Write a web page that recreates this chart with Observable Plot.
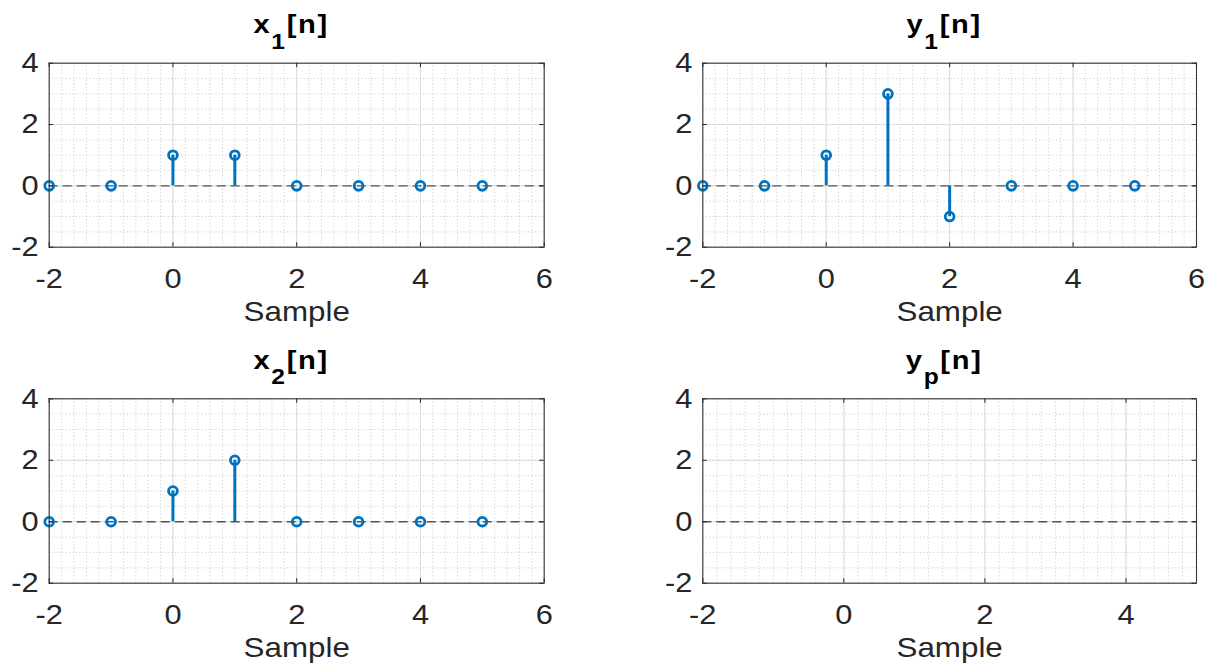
<!DOCTYPE html>
<html>
<head>
<meta charset="utf-8">
<script src="https://cdn.jsdelivr.net/npm/d3@7"></script>
<script src="https://cdn.jsdelivr.net/npm/@observablehq/plot@0.6"></script>
<style>
html, body { margin: 0; padding: 0; background: #fff; }
#chart { position: relative; width: 1205px; height: 669px; overflow: hidden; background: #fff; }
#chart svg { position: absolute; overflow: visible; }
</style>
</head>
<body>
<div id="chart"></div>
<script>
// ---- data ----
const samples = [-2, -1, 0, 1, 2, 3, 4, 5];
const x1Values = [0, 0, 1, 1, 0, 0, 0, 0];
const y1Values = [0, 0, 1, 3, -1, 0, 0, 0];
const x2Values = [0, 0, 1, 2, 0, 0, 0, 0];
const ypSamples = [];
const ypValues = [];

const xTicksWide = [-2, 0, 2, 4, 6];
const xTickLabelsWide = ["-2", "0", "2", "4", "6"];
const xTicksNarrow = [-2, 0, 2, 4];
const xTickLabelsNarrow = ["-2", "0", "2", "4"];
const yTicks = [-2, 0, 2, 4];
const yTickLabels = ["-2", "0", "2", "4"];
const xLabel = "Sample";

// ---- styling ----
const BLUE = "#0072BD";
const AXIS = "#262626";
const FONT = "'Liberation Sans', Arial, Helvetica, sans-serif";
const STRETCH = 1.12;

function makePanel(cfg) {
  const rows = cfg.n.map((n, i) => ({n, v: cfg.v[i]}));
  const plotW = cfg.width - cfg.ml - cfg.mr;
  const plotH = cfg.height - cfg.mt - cfg.mb;
  const minorX = d3.range(cfg.xDomain[0] * 5, cfg.xDomain[1] * 5 + 1).map(d => d / 5);
  const minorY = d3.range(-4, 9).map(d => d / 2);
  const tickLen = 4.5;

  const titleMark = (index, scales, values, dims) => {
    const cx = dims.marginLeft + (dims.width - dims.marginLeft - dims.marginRight) / 2 - 5;
    const t = d3.create("svg:text")
      .attr("transform", `translate(${cx},${dims.marginTop - 29.4})`)
      .attr("text-anchor", "middle")
      .attr("font-family", FONT)
      .attr("font-weight", "bold")
      .attr("font-size", 26)
      .attr("letter-spacing", 1.5)
      .attr("fill", "#000");
    t.append("tspan").text(cfg.base);
    t.append("tspan").attr("font-size", 22).attr("dy", 15.5).text(cfg.sub);
    t.append("tspan").attr("dy", -15.5).text("[n]");
    return t.node();
  };

  const svg = Plot.plot({
    width: cfg.width,
    height: cfg.height,
    marginLeft: cfg.ml,
    marginRight: cfg.mr,
    marginTop: cfg.mt,
    marginBottom: cfg.mb,
    style: {fontSize: "27.5px", fontFamily: FONT, color: AXIS, background: "transparent"},
    x: {domain: cfg.xDomain},
    y: {domain: [-2, 4]},
    marks: [
      Plot.gridX({ticks: minorX, stroke: "#c4c4c4", strokeOpacity: 1, strokeWidth: 0.8, strokeDasharray: "1.2,2.2"}),
      Plot.gridY({ticks: minorY, stroke: "#c4c4c4", strokeOpacity: 1, strokeWidth: 0.8, strokeDasharray: "1.2,2.2"}),
      Plot.gridX({ticks: cfg.xTicks, stroke: "#dcdcdc", strokeOpacity: 1, strokeWidth: 1}),
      Plot.gridY({ticks: yTicks, stroke: "#dcdcdc", strokeOpacity: 1, strokeWidth: 1}),
      Plot.ruleY([0], {stroke: "#555555", strokeWidth: 1.4, strokeDasharray: "9,5"}),
      Plot.ruleX(rows, {x: "n", y1: 0, y2: "v", stroke: BLUE, strokeWidth: 3}),
      Plot.dot(rows, {x: "n", y: "v", r: 4.4, stroke: BLUE, strokeWidth: 2.8, fill: "none"}),
      Plot.frame({stroke: "#3a3a3a", strokeWidth: 1.1}),
      Plot.tickX(cfg.xTicks, {x: d => d, stroke: AXIS, insetBottom: plotH - tickLen}),
      Plot.tickX(cfg.xTicks, {x: d => d, stroke: AXIS, insetTop: plotH - tickLen}),
      Plot.tickY(yTicks, {y: d => d, stroke: AXIS, insetRight: plotW - tickLen}),
      Plot.tickY(yTicks, {y: d => d, stroke: AXIS, insetLeft: plotW - tickLen}),
      Plot.axisX({ticks: cfg.xTicks, tickFormat: (d, i) => cfg.xTickLabels[i], tickSize: 0, tickPadding: 21.5, label: null, fill: AXIS}),
      Plot.axisY({ticks: yTicks, tickFormat: (d, i) => yTickLabels[i], tickSize: 0, tickPadding: 10.5, label: null, fill: AXIS}),
      Plot.text([xLabel], {text: d => d, frameAnchor: "bottom", dy: 74, lineAnchor: "bottom", fontSize: 28, fill: AXIS}),
      titleMark
    ]
  });
  // widen glyphs horizontally, as in the reference rendering
  d3.select(svg).selectAll("text").each(function () {
    const t = this.getAttribute("transform") || "";
    this.setAttribute("transform", (t + ` scale(${STRETCH},1)`).trim());
  });
  svg.style.left = cfg.left + "px";
  svg.style.top = cfg.top + "px";
  document.getElementById("chart").appendChild(svg);
}

makePanel({base: "x", sub: "1", n: samples, v: x1Values, xDomain: [-2, 6], xTicks: xTicksWide, xTickLabels: xTickLabelsWide,
  left: 0, top: 0, width: 600, height: 334, ml: 48.7, mr: 56.3, mt: 62.7, mb: 87.3});
makePanel({base: "y", sub: "1", n: samples, v: y1Values, xDomain: [-2, 6], xTicks: xTicksWide, xTickLabels: xTickLabelsWide,
  left: 600, top: 0, width: 605, height: 334, ml: 102.3, mr: 9, mt: 62.7, mb: 87.3});
makePanel({base: "x", sub: "2", n: samples, v: x2Values, xDomain: [-2, 6], xTicks: xTicksWide, xTickLabels: xTickLabelsWide,
  left: 0, top: 334, width: 600, height: 335, ml: 48.7, mr: 56.3, mt: 64.3, mb: 86.3});
makePanel({base: "y", sub: "p", n: ypSamples, v: ypValues, xDomain: [-2, 5], xTicks: xTicksNarrow, xTickLabels: xTickLabelsNarrow,
  left: 600, top: 334, width: 605, height: 335, ml: 102.3, mr: 9, mt: 64.3, mb: 86.3});
</script>
</body>
</html>
